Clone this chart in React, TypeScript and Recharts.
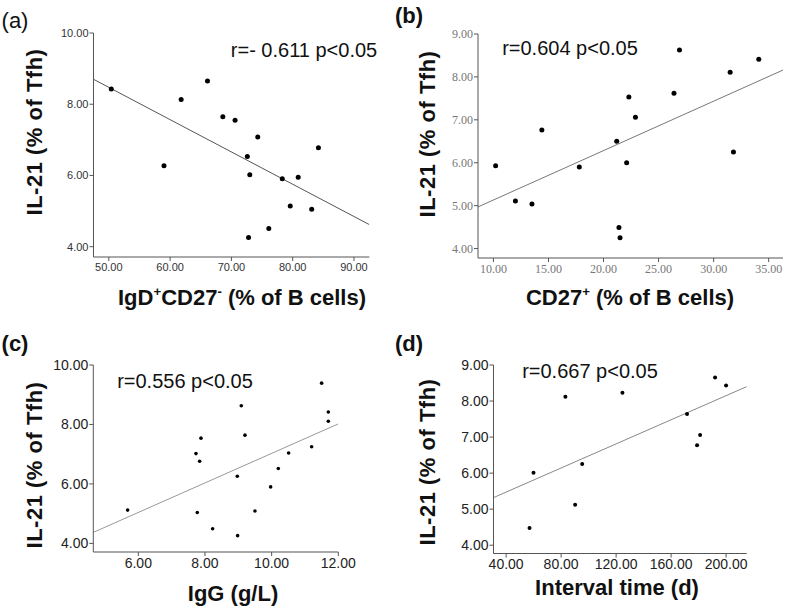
import React from 'react';
import { ScatterChart, Scatter, XAxis, YAxis, ReferenceLine } from 'recharts';

const FONT = '"Liberation Sans", Arial, sans-serif';
const SERIF = '"Liberation Serif", "Times New Roman", serif';

// (a) IgD+CD27- vs IL-21
const aX = [50.4, 59.0, 61.8, 66.1, 68.6, 70.6, 72.6, 73.0, 74.3, 72.8, 76.1, 78.3, 79.6, 80.9, 83.1, 84.2];
const aY = [8.43, 6.27, 8.13, 8.65, 7.65, 7.55, 6.53, 6.02, 7.08, 4.26, 4.51, 5.91, 5.14, 5.95, 5.05, 6.78];
const aFit = [{ x: 47.5, y: 8.7 }, { x: 92.5, y: 4.62 }];
const aXTicks = [50, 60, 70, 80, 90];
const aYTicks = [4, 6, 8, 10];

// (b) CD27+ vs IL-21
const bX = [10.2, 12.0, 13.5, 14.4, 17.8, 21.2, 21.4, 21.5, 22.1, 22.3, 22.9, 26.4, 26.9, 31.5, 31.8, 34.1];
const bY = [5.93, 5.11, 5.04, 6.76, 5.9, 6.5, 4.49, 4.25, 6.0, 7.53, 7.06, 7.62, 8.63, 8.11, 6.25, 8.41];
const bFit = [{ x: 8.6, y: 4.97 }, { x: 36.3, y: 8.16 }];
const bXTicks = [10, 15, 20, 25, 30, 35];
const bYTicks = [4, 5, 6, 7, 8, 9];

// (c) IgG vs IL-21
const cX = [5.68, 7.73, 7.84, 7.88, 7.77, 8.23, 8.97, 8.98, 9.09, 9.2, 9.5, 9.97, 10.2, 10.51, 11.2, 11.5, 11.7, 11.7];
const cY = [5.12, 7.02, 6.76, 7.54, 5.04, 4.49, 6.26, 4.26, 8.63, 7.64, 5.09, 5.9, 6.52, 7.04, 7.25, 9.39, 8.42, 8.11];
const cFit = [{ x: 4.65, y: 4.37 }, { x: 12, y: 8.02 }];
const cXTicks = [6, 8, 10, 12];
const cYTicks = [4, 6, 8, 10];

// (d) Interval time vs IL-21
const dX = [57.0, 59.9, 83.1, 90.2, 95.3, 124.6, 171.6, 178.9, 181.1, 192, 200];
const dY = [4.48, 6.01, 8.12, 5.12, 6.25, 8.23, 7.64, 6.77, 7.06, 8.65, 8.43];
const dFit = [{ x: 30.8, y: 5.32 }, { x: 215, y: 8.4 }];
const dXTicks = [40, 80, 120, 160, 200];
const dYTicks = [4, 5, 6, 7, 8, 9];

const toPoints = (xs: number[], ys: number[]) => xs.map((x, i) => ({ x, y: ys[i] }));

const Panel = ({ left, top, width, height, margin, xs, ys, fit, xDomain, yDomain, xTicks, yTicks, tick, axisColor, lineColor, dotR }: any) => (
  <div style={{ position: 'absolute', left, top }}>
    <ScatterChart width={width} height={height} margin={margin}>
      <XAxis
        type="number"
        dataKey="x"
        domain={xDomain}
        ticks={xTicks}
        interval={0}
        allowDataOverflow
        tickFormatter={(v: number) => v.toFixed(2)}
        tickSize={4}
        tickMargin={2}
        height={30}
        stroke={axisColor}
        tick={tick}
      />
      <YAxis
        type="number"
        dataKey="y"
        domain={yDomain}
        ticks={yTicks}
        interval={0}
        allowDataOverflow
        tickFormatter={(v: number) => v.toFixed(2)}
        tickSize={4}
        tickMargin={1}
        width={50}
        stroke={axisColor}
        tick={tick}
      />
      <ReferenceLine segment={fit} stroke={lineColor} strokeWidth={1} ifOverflow="hidden" />
      <Scatter
        data={toPoints(xs, ys)}
        isAnimationActive={false}
        shape={(p: any) => <circle cx={p.cx} cy={p.cy} r={dotR} fill="#000" />}
      />
    </ScatterChart>
  </div>
);

const txt = (left: number, top: number, size: number, bold: boolean, content: React.ReactNode, rotate = false) => (
  <div
    style={{
      position: 'absolute',
      left,
      top,
      transform: rotate ? 'translate(-50%, -50%) rotate(-90deg)' : 'translate(-50%, -50%)',
      fontFamily: FONT,
      fontSize: size,
      fontWeight: bold ? 'bold' : 'normal',
      letterSpacing: rotate ? 0.5 : 0,
      whiteSpace: 'nowrap',
      color: '#111',
      lineHeight: 1,
    }}
  >
    {content}
  </div>
);

const sup = (s: string) => <sup style={{ fontSize: '60%', verticalAlign: '0.7em' }}>{s}</sup>;

const App = () => {
  const sans11 = { fill: '#333', fontSize: 11, fontFamily: FONT };
  const serif12 = { fill: '#777', fontSize: 12, fontFamily: SERIF };
  const sans14 = { fill: '#222', fontSize: 14, fontFamily: FONT };
  return (
    <div style={{ position: 'absolute', left: 0, top: 0, width: 787, height: 610, background: '#fff', overflow: 'hidden' }}>
      <Panel left={0} top={0} width={390} height={300} margin={{ top: 33, right: 20.7, bottom: 13, left: 43.5 }}
        xs={aX} ys={aY} fit={aFit} xDomain={[47.5, 92.5]} yDomain={[3.71, 10]} xTicks={aXTicks} yTicks={aYTicks}
        tick={sans11} axisColor="#555" lineColor="#555" dotR={2.5} />
      <Panel left={390} top={0} width={397} height={300} margin={{ top: 34, right: 4, bottom: 12, left: 38 }}
        xs={bX} ys={bY} fit={bFit} xDomain={[8.6, 36.3]} yDomain={[3.78, 9]} xTicks={bXTicks} yTicks={bYTicks}
        tick={serif12} axisColor="#555" lineColor="#777" dotR={2.5} />
      <Panel left={0} top={300} width={390} height={310} margin={{ top: 65, right: 51.7, bottom: 28, left: 43.3 }}
        xs={cX} ys={cY} fit={cFit} xDomain={[4.65, 12]} yDomain={[3.71, 10]} xTicks={cXTicks} yTicks={cYTicks}
        tick={sans14} axisColor="#555" lineColor="#999" dotR={1.8} />
      <Panel left={390} top={300} width={397} height={310} margin={{ top: 65, right: 40.3, bottom: 26.5, left: 53.5 }}
        xs={dX} ys={dY} fit={dFit} xDomain={[30.8, 215]} yDomain={[3.77, 9]} xTicks={dXTicks} yTicks={dYTicks}
        tick={sans14} axisColor="#555" lineColor="#888" dotR={2} />

      {txt(15, 21, 22, false, '(a)')}
      {txt(409, 16, 22, true, '(b)')}
      {txt(15, 344, 22, true, '(c)')}
      {txt(409, 344, 22, true, '(d)')}

      {txt(304, 50, 20, false, 'r=- 0.611 p<0.05')}
      {txt(570, 48, 20, false, 'r=0.604 p<0.05')}
      {txt(185, 381, 20, false, 'r=0.556 p<0.05')}
      {txt(590, 371, 20, false, 'r=0.667 p<0.05')}

      {txt(35, 132, 22, true, 'IL-21 (% of Tfh)', true)}
      {txt(428, 134, 22, true, 'IL-21 (% of Tfh)', true)}
      {txt(35, 465, 22, true, 'IL-21 (% of Tfh)', true)}
      {txt(428, 462, 22, true, 'IL-21 (% of Tfh)', true)}

      {txt(242, 297, 22, true, <>IgD{sup('+')}CD27{sup('-')} (% of B cells)</>)}
      {txt(630, 297, 22, true, <>CD27{sup('+')} (% of B cells)</>)}
      {txt(233, 594, 22, true, 'IgG (g/L)')}
      {txt(617, 588, 22, true, 'Interval time (d)')}
    </div>
  );
};

export default App;
